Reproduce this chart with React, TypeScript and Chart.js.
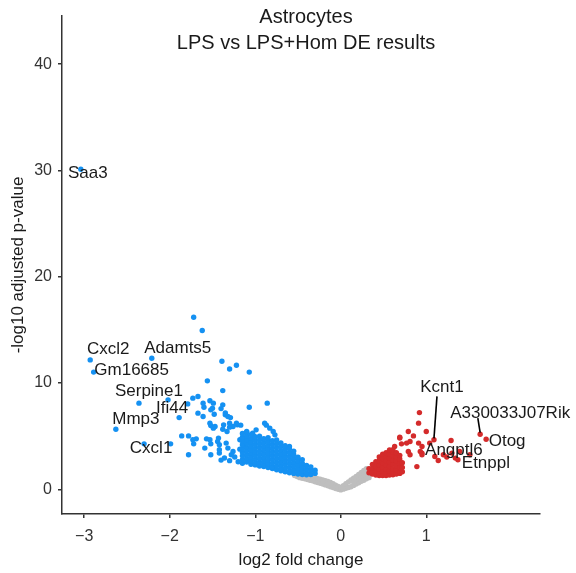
import React, { useEffect, useRef } from "react";
import { Chart, registerables } from "chart.js";

Chart.register(...registerables);

// ---------- data ----------
const titleLines = ["Astrocytes", "LPS vs LPS+Hom DE results"];
const xAxisTitle = "log2 fold change";
const yAxisTitle = "-log10 adjusted p-value";
const xTicks = [-3, -2, -1, 0, 1];
const yTicks = [0, 10, 20, 30, 40];

// [log2 fold change, -log10 adjusted p-value]
const downRegulated: [number, number][] = [
  [-3.04, 30.12], [-2.93, 12.18], [-2.89, 11.03], [-2.21, 12.34], [-2.36, 8.11],
  [-2.02, 8.42], [-1.89, 6.75], [-2.63, 5.66], [-2.30, 4.28], [-1.99, 4.28],
  [-1.72, 16.2], [-1.62, 14.94], [-1.39, 12.06], [-1.30, 11.32], [-1.22, 11.68],
  [-1.07, 11.03], [-1.56, 10.21], [-1.38, 9.29], [-1.07, 7.73], [-0.86, 8.11],
  [-1.73, 8.58], [-1.67, 8.73], [-1.79, 8.04], [-1.60, 7.73], [-1.53, 8.33],
  [-1.49, 8.11], [-1.52, 7.48], [-1.38, 7.95], [-1.48, 7.07], [-1.35, 7.01],
  [-1.29, 6.75], [-1.21, 6.07], [-1.17, 6.04], [-1.52, 6.0], [-1.49, 5.76],
  [-1.37, 6.07], [-1.30, 5.85], [-0.87, 6.04], [-1.86, 5.03], [-1.78, 5.03],
  [-1.69, 4.75], [-1.72, 4.28], [-1.78, 3.25], [-1.57, 4.75], [-1.52, 4.28],
  [-1.59, 3.88], [-1.52, 3.25], [-1.43, 4.82], [-1.34, 4.35], [-1.42, 3.41],
  [-1.61, 8.11], [-1.50, 7.64], [-1.40, 7.6], [-1.35, 7.2], [-1.32, 6.85],
  [-1.67, 7.17], [-1.61, 6.85], [-1.53, 6.23], [-1.47, 5.91], [-1.38, 5.66],
  [-1.33, 5.44], [-1.30, 6.23], [-1.26, 5.91], [-1.22, 6.23], [-1.10, 5.44],
  [-1.03, 5.29], [-0.99, 5.6], [-1.73, 4.66], [-1.53, 4.66], [-1.44, 4.5],
  [-1.42, 4.19], [-1.42, 3.72], [-1.32, 3.88], [-1.26, 3.56], [-1.18, 3.78],
  [-1.14, 4.19], [-1.18, 4.66], [-1.10, 4.66], [-0.83, 5.76], [-0.89, 6.23],
  [-0.79, 5.44], [-0.77, 5.13], [-1.01, 4.97], [-0.60, 4.03],
  [-1.36, 2.95], [-1.30, 2.7], [-1.24, 3.05], [-1.20, 2.6], [-1.28, 3.25], [-1.40, 2.75],
  // dense cloud
  [-1.15, 2.45], [-1.15, 2.8], [-1.15, 3.15], [-1.15, 3.5], [-1.15, 3.85], [-1.15, 4.2], [-1.15, 4.55], [-1.15, 4.9], [-1.15, 5.25],
  [-1.10, 2.57], [-1.10, 2.92], [-1.10, 3.27], [-1.10, 3.62], [-1.10, 3.97], [-1.10, 4.32], [-1.10, 4.67], [-1.10, 5.02], [-1.10, 5.37],
  [-1.05, 2.35], [-1.05, 2.7], [-1.05, 3.05], [-1.05, 3.4], [-1.05, 3.75], [-1.05, 4.1], [-1.05, 4.45], [-1.05, 4.8], [-1.05, 5.15],
  [-1.00, 2.3], [-1.00, 2.47], [-1.00, 2.82], [-1.00, 3.17], [-1.00, 3.52], [-1.00, 3.87], [-1.00, 4.22], [-1.00, 4.57], [-1.00, 4.92],
  [-0.95, 2.2], [-0.95, 2.55], [-0.95, 2.9], [-0.95, 3.25], [-0.95, 3.6], [-0.95, 3.95], [-0.95, 4.3], [-0.95, 4.65], [-0.95, 5.0],
  [-0.90, 2.15], [-0.90, 2.32], [-0.90, 2.67], [-0.90, 3.02], [-0.90, 3.37], [-0.90, 3.72], [-0.90, 4.07], [-0.90, 4.42], [-0.90, 4.77],
  [-0.85, 2.05], [-0.85, 2.4], [-0.85, 2.75], [-0.85, 3.1], [-0.85, 3.45], [-0.85, 3.8], [-0.85, 4.15], [-0.85, 4.5], [-0.85, 4.85],
  [-0.80, 1.95], [-0.80, 2.12], [-0.80, 2.47], [-0.80, 2.82], [-0.80, 3.17], [-0.80, 3.52], [-0.80, 3.87], [-0.80, 4.22], [-0.80, 4.57],
  [-0.75, 1.85], [-0.75, 2.2], [-0.75, 2.55], [-0.75, 2.9], [-0.75, 3.25], [-0.75, 3.6], [-0.75, 3.95], [-0.75, 4.3], [-0.75, 4.65],
  [-0.70, 1.75], [-0.70, 1.92], [-0.70, 2.27], [-0.70, 2.62], [-0.70, 2.97], [-0.70, 3.32], [-0.70, 3.67], [-0.70, 4.02], [-0.70, 4.37],
  [-0.65, 1.65], [-0.65, 2.0], [-0.65, 2.35], [-0.65, 2.7], [-0.65, 3.05], [-0.65, 3.4], [-0.65, 3.75], [-0.65, 4.1],
  [-0.60, 1.55], [-0.60, 1.72], [-0.60, 2.07], [-0.60, 2.42], [-0.60, 2.77], [-0.60, 3.12], [-0.60, 3.47], [-0.60, 3.82],
  [-0.55, 1.5], [-0.55, 1.85], [-0.55, 2.2], [-0.55, 2.55], [-0.55, 2.9], [-0.55, 3.25], [-0.55, 3.6],
  [-0.50, 1.45], [-0.50, 1.62], [-0.50, 1.97], [-0.50, 2.32], [-0.50, 2.67], [-0.50, 3.02],
  [-0.45, 1.4], [-0.45, 1.75], [-0.45, 2.1], [-0.45, 2.45], [-0.45, 2.8],
  [-0.40, 1.38], [-0.40, 1.55], [-0.40, 1.9], [-0.40, 2.25],
  [-0.35, 1.4], [-0.35, 1.75], [-0.35, 2.1],
  [-0.30, 1.5], [-0.30, 1.8],
];

const upRegulated: [number, number][] = [
  [0.92, 7.22], [0.91, 6.23], [0.79, 5.44], [1.0, 5.44], [0.69, 4.91], [0.85, 5.03],
  [0.71, 4.28], [0.77, 4.35], [0.81, 4.5], [0.91, 4.35], [0.95, 4.03], [1.04, 4.35],
  [0.79, 3.56], [0.81, 3.25], [0.95, 3.41], [0.89, 2.14], [0.63, 4.03], [1.09, 4.66],
  [1.29, 4.59], [0.93, 3.56], [0.95, 3.25], [1.10, 3.09], [1.14, 2.71], [1.24, 3.05],
  [1.20, 3.25], [1.39, 3.56], [1.37, 2.78], [1.51, 3.25], [1.63, 5.19], [1.70, 4.72],
  [1.30, 3.41], [1.34, 2.94], [0.69, 4.82], [0.69, 2.14],
  // dense cloud
  [0.33, 1.55], [0.33, 1.95],
  [0.37, 1.45], [0.37, 1.65], [0.37, 2.0], [0.37, 2.35],
  [0.41, 1.35], [0.41, 1.75], [0.41, 2.15], [0.41, 2.6],
  [0.45, 1.3], [0.45, 1.5], [0.45, 1.9], [0.45, 2.3], [0.45, 2.7], [0.45, 3.05],
  [0.49, 1.3], [0.49, 1.7], [0.49, 2.1], [0.49, 2.5], [0.49, 2.9], [0.49, 3.3],
  [0.53, 1.3], [0.53, 1.5], [0.53, 1.9], [0.53, 2.3], [0.53, 2.7], [0.53, 3.1], [0.53, 3.45],
  [0.57, 1.35], [0.57, 1.75], [0.57, 2.15], [0.57, 2.55], [0.57, 2.95], [0.57, 3.35], [0.57, 3.7],
  [0.61, 1.38], [0.61, 1.55], [0.61, 1.95], [0.61, 2.35], [0.61, 2.75], [0.61, 3.15], [0.61, 3.55], [0.61, 3.72],
  [0.65, 1.45], [0.65, 1.85], [0.65, 2.25], [0.65, 2.65], [0.65, 3.05], [0.65, 3.45],
  [0.69, 1.5], [0.69, 1.65], [0.69, 2.05], [0.69, 2.45], [0.69, 2.85], [0.69, 3.2],
  [0.72, 1.65], [0.72, 2.05], [0.72, 2.5],
];

const notSignificant: [number, number][] = [
  [-0.54, 1.3], [-0.54, 1.6], [-0.51, 1.2], [-0.51, 1.5], [-0.48, 1.1], [-0.48, 1.45],
  [-0.45, 1.05], [-0.45, 1.38], [-0.42, 1.0], [-0.42, 1.32], [-0.39, 0.92], [-0.39, 1.25],
  [-0.36, 0.86], [-0.36, 1.2], [-0.33, 0.8], [-0.33, 1.13], [-0.30, 0.72], [-0.30, 1.07],
  [-0.27, 0.65], [-0.27, 1.0], [-0.24, 0.58], [-0.24, 0.95], [-0.21, 0.5], [-0.21, 0.88],
  [-0.18, 0.42], [-0.18, 0.82], [-0.15, 0.34], [-0.15, 0.74], [-0.12, 0.25], [-0.12, 0.64],
  [-0.09, 0.17], [-0.09, 0.52], [-0.06, 0.08], [-0.06, 0.4], [-0.03, 0.0], [-0.03, 0.28],
  [0.0, -0.05], [0.0, 0.18], [0.03, 0.02], [0.03, 0.35], [0.06, 0.1], [0.06, 0.52],
  [0.09, 0.17], [0.09, 0.7], [0.12, 0.25], [0.12, 0.88], [0.15, 0.37], [0.15, 0.7], [0.15, 1.05],
  [0.18, 0.5], [0.18, 0.86], [0.18, 1.22], [0.21, 0.62], [0.21, 1.0], [0.21, 1.4],
  [0.24, 0.75], [0.24, 1.16], [0.24, 1.58], [0.27, 0.86], [0.27, 1.32], [0.27, 1.78],
  [0.30, 1.0], [0.30, 1.48], [0.30, 1.95], [0.33, 1.1], [0.33, 1.5],
];

const labeledGenes = ["Saa3", "Cxcl2", "Gm16685", "Adamts5", "Serpine1", "Ifi44", "Mmp3", "Cxcl1",
  "Kcnt1", "A330033J07Rik", "Otog", "Angptl6", "Etnppl"];
const labeledLfc = [-3.04, -2.93, -2.89, -2.21, -2.36, -2.02, -2.63, -2.30, 1.09, 1.63, 1.70, 1.20, 1.37];
const labeledPadj = [30.12, 12.18, 11.03, 12.34, 8.11, 8.42, 5.66, 4.28, 4.66, 5.19, 4.72, 3.25, 2.78];

// ---------- layout / style ----------
const labelOffsets: Record<string, [number, number]> = {
  Saa3: [7, 4], Cxcl2: [18, -10.5], Gm16685: [38, -2], Adamts5: [26, -10],
  Serpine1: [10, -12], Ifi44: [4, 8], Mmp3: [20, -10], Cxcl1: [7, 4],
  Kcnt1: [8, -52.5], A330033J07Rik: [30, -21], Otog: [21, 2], Angptl6: [10.5, -4], Etnppl: [28, 4],
};
const segmentStarts: Record<string, [number, number]> = {
  Kcnt1: [3, -43.5],
  A330033J07Rik: [-2.3, -16],
};

const FONT = "'Liberation Sans', Arial, Helvetica, sans-serif";
const BLUE = "#1591f2";
const RED = "#d42b2b";
const GRAY = "#bebebe";
const AXIS = "#333333";
const TEXT = "#1a1a1a";

const fmt = (v: number) => (v < 0 ? "\u2212" + Math.abs(v) : String(v));

export default function App() {
  const ref = useRef<HTMLCanvasElement>(null);

  useEffect(() => {
    const canvas = ref.current;
    if (!canvas) return;

    const labelPlugin = {
      id: "geneLabels",
      afterDatasetsDraw(chart: any) {
        const { ctx, scales } = chart;
        ctx.save();
        ctx.font = `17px ${FONT}`;
        ctx.textAlign = "center";
        ctx.textBaseline = "middle";
        ctx.fillStyle = TEXT;
        ctx.strokeStyle = "#000";
        ctx.lineWidth = 1.6;
        labeledGenes.forEach((g, i) => {
          const px = scales.x.getPixelForValue(labeledLfc[i]);
          const py = scales.y.getPixelForValue(labeledPadj[i]);
          const seg = segmentStarts[g];
          if (seg) {
            ctx.beginPath();
            ctx.moveTo(px + seg[0], py + seg[1]);
            ctx.lineTo(px, py - 1.5);
            ctx.stroke();
          }
          const [dx, dy] = labelOffsets[g];
          ctx.fillText(g, px + dx, py + dy);
        });
        ctx.restore();
      },
    };

    const titlePlugin = {
      id: "twoLineTitle",
      afterDraw(chart: any) {
        const { ctx, chartArea } = chart;
        ctx.save();
        ctx.font = `20px ${FONT}`;
        ctx.textAlign = "center";
        ctx.textBaseline = "middle";
        ctx.fillStyle = TEXT;
        const cx = (chartArea.left + chartArea.right) / 2 + 5;
        ctx.fillText(titleLines[0], cx, 17);
        ctx.fillText(titleLines[1], cx, 43);
        ctx.restore();
      },
    };

    const pointStyle = { pointRadius: 2.7, pointHoverRadius: 2.7, borderWidth: 0 };

    const chart = new Chart(canvas, {
      type: "scatter",
      data: {
        datasets: [
          { label: "down", data: downRegulated.map(([x, y]) => ({ x, y })), backgroundColor: BLUE, borderColor: BLUE, ...pointStyle },
          { label: "up", data: upRegulated.map(([x, y]) => ({ x, y })), backgroundColor: RED, borderColor: RED, ...pointStyle },
          { label: "ns", data: notSignificant.map(([x, y]) => ({ x, y })), backgroundColor: GRAY, borderColor: GRAY, ...pointStyle },
        ],
      },
      options: {
        responsive: false,
        animation: false,
        events: [],
        layout: { padding: { top: 16, right: 36, left: 0, bottom: 0 } },
        plugins: {
          legend: { display: false },
          tooltip: { enabled: false },
          title: { display: false },
        },
        scales: {
          x: {
            type: "linear",
            min: -3.26,
            max: 2.33,
            afterBuildTicks: (s: any) => {
              s.ticks = xTicks.map((v) => ({ value: v }));
            },
            afterFit: (s: any) => {
              s.height = 59;
            },
            grid: { display: true, drawOnChartArea: false, drawTicks: true, tickLength: 4, color: AXIS, lineWidth: 1.5 },
            border: { display: true, color: AXIS, width: 1.5 },
            ticks: { font: { family: FONT, size: 16 }, color: AXIS, padding: 9, maxRotation: 0, callback: (v: any) => fmt(Number(v)) },
            title: { display: true, text: xAxisTitle, font: { family: FONT, size: 17 }, color: TEXT, padding: { top: 0, bottom: 2 } },
          },
          y: {
            type: "linear",
            min: -2.32,
            max: 44.54,
            afterBuildTicks: (s: any) => {
              s.ticks = yTicks.map((v) => ({ value: v }));
            },
            afterFit: (s: any) => {
              s.width = 62;
            },
            grid: { display: true, drawOnChartArea: false, drawTicks: true, tickLength: 4, color: AXIS, lineWidth: 1.5 },
            border: { display: true, color: AXIS, width: 1.5 },
            ticks: { font: { family: FONT, size: 16 }, color: AXIS, padding: 6, callback: (v: any) => fmt(Number(v)) },
            title: { display: true, text: yAxisTitle, font: { family: FONT, size: 17 }, color: TEXT, padding: { top: 8, bottom: 0 } },
          },
        },
      },
      plugins: [labelPlugin, titlePlugin],
    } as any);

    return () => chart.destroy();
  }, []);

  return (
    <div style={{ position: "fixed", left: 0, top: 0, width: 576, height: 573, background: "#ffffff" }}>
      <canvas ref={ref} width={576} height={573} style={{ display: "block" }} />
    </div>
  );
}
